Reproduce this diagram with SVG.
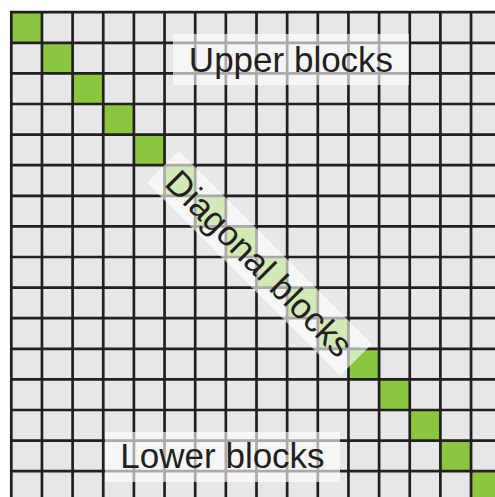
<svg xmlns="http://www.w3.org/2000/svg" width="495" height="497" viewBox="0 0 495 497">
<style>
.g{fill:#8cc63f}
.ln{stroke:#231f20;stroke-width:2.7;fill:none}
.box{fill:#ffffff;fill-opacity:0.62}
.t{font-family:"Liberation Sans",Arial,sans-serif;font-size:35px;fill:#231f20;text-anchor:middle}
</style>
<rect x="0" y="0" width="495" height="497" fill="#ffffff"/>
<rect x="11.3" y="12.2" width="484" height="485" fill="#e6e7e8"/>
<g id="diagonal-cells">
<rect class="g" x="11.3" y="12.2" width="30.65" height="30.6"/>
<rect class="g" x="41.95" y="42.8" width="30.65" height="30.6"/>
<rect class="g" x="72.6" y="73.4" width="30.65" height="30.6"/>
<rect class="g" x="103.25" y="104" width="30.65" height="30.6"/>
<rect class="g" x="133.9" y="134.6" width="30.65" height="30.6"/>
<rect class="g" x="164.55" y="165.2" width="30.65" height="30.6"/>
<rect class="g" x="195.2" y="195.8" width="30.65" height="30.6"/>
<rect class="g" x="225.85" y="226.4" width="30.65" height="30.6"/>
<rect class="g" x="256.5" y="257" width="30.65" height="30.6"/>
<rect class="g" x="287.15" y="287.6" width="30.65" height="30.6"/>
<rect class="g" x="317.8" y="318.2" width="30.65" height="30.6"/>
<rect class="g" x="348.45" y="348.8" width="30.65" height="30.6"/>
<rect class="g" x="379.1" y="379.4" width="30.65" height="30.6"/>
<rect class="g" x="409.75" y="410" width="30.65" height="30.6"/>
<rect class="g" x="440.4" y="440.6" width="30.65" height="30.6"/>
<rect class="g" x="471.05" y="471.2" width="30.65" height="30.6"/>
</g>
<g id="grid" class="ln">
<path d="M11.3 10.9V497M41.95 12.2V497M72.6 12.2V497M103.25 12.2V497M133.9 12.2V497M164.55 12.2V497M195.2 12.2V497M225.85 12.2V497M256.5 12.2V497M287.15 12.2V497M317.8 12.2V497M348.45 12.2V497M379.1 12.2V497M409.75 12.2V497M440.4 12.2V497M471.05 12.2V497"/>
<path d="M10 12.2H495M11.3 42.8H495M11.3 73.4H495M11.3 104H495M11.3 134.6H495M11.3 165.2H495M11.3 195.8H495M11.3 226.4H495M11.3 257H495M11.3 287.6H495M11.3 318.2H495M11.3 348.8H495M11.3 379.4H495M11.3 410H495M11.3 440.6H495M11.3 471.2H495"/>
</g>
<g id="upper-label">
<rect class="box" x="173" y="34" width="236" height="51"/>
<text class="t" x="291" y="71.5">Upper blocks</text>
</g>
<g id="diagonal-label" transform="translate(259.5 263.3) rotate(45)">
<rect class="box" x="-136.5" y="-22.5" width="273" height="45"/>
<text class="t" x="0" y="12.5">Diagonal blocks</text>
</g>
<g id="lower-label">
<rect class="box" x="105" y="432" width="235" height="50"/>
<text class="t" x="222.5" y="468">Lower blocks</text>
</g>
</svg>
